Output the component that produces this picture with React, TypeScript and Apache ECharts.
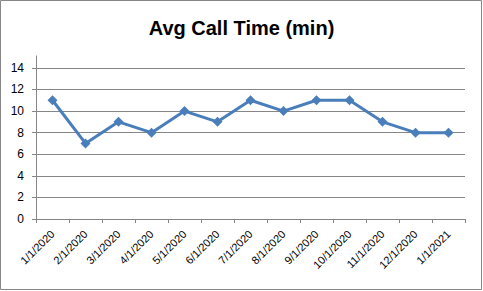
import React, { useEffect, useRef } from "react";
import * as echarts from "echarts";

const categories = [
  "1/1/2020", "2/1/2020", "3/1/2020", "4/1/2020", "5/1/2020", "6/1/2020",
  "7/1/2020", "8/1/2020", "9/1/2020", "10/1/2020", "11/1/2020", "12/1/2020", "1/1/2021",
];
const avgCallTime = [11, 7, 9, 8, 10, 9, 11, 10, 11, 11, 9, 8, 8];
const yMin = 0;
const yMax = 15.1;
const yInterval = 2;

export default function App() {
  const ref = useRef<HTMLDivElement>(null);
  useEffect(() => {
    document.body.style.margin = "0";
    const chart = echarts.init(ref.current!, null, { renderer: "svg" });
    const font = "'Liberation Sans', Arial, sans-serif";
    chart.setOption({
      animation: false,
      backgroundColor: "#ffffff",
      title: {
        text: "Avg Call Time (min)",
        left: "center",
        top: 13,
        textStyle: { fontFamily: font, fontSize: 20, fontWeight: "bold", color: "#000" },
      },
      graphic: [
        {
          type: "rect",
          shape: { x: 0.5, y: 0.5, width: 481, height: 289 },
          style: { fill: "none", stroke: "#868686", lineWidth: 1 },
          silent: true,
        },
      ],
      grid: { left: 36, top: 56, right: 18, bottom: 72 },
      xAxis: {
        type: "category",
        data: categories,
        boundaryGap: true,
        axisLine: { lineStyle: { color: "#868686", width: 1 } },
        axisTick: { show: true, length: 4, alignWithLabel: false, lineStyle: { color: "#868686" } },
        axisLabel: {
          rotate: 45,
          interval: 0,
          margin: 13,
          fontFamily: font,
          fontSize: 11,
          color: "#000",
        },
        splitLine: { show: false },
      },
      yAxis: {
        type: "value",
        min: yMin,
        max: yMax,
        interval: yInterval,
        axisLine: { show: true, lineStyle: { color: "#868686", width: 1 } },
        axisTick: { show: true, length: 4, lineStyle: { color: "#868686" } },
        axisLabel: {
          showMaxLabel: false,
          margin: 12,
          fontFamily: font,
          fontSize: 12,
          color: "#000",
        },
        splitLine: { show: true, showMaxLine: false, lineStyle: { color: "#868686", width: 1 } },
      },
      series: [
        {
          type: "line",
          data: avgCallTime,
          symbol: "diamond",
          symbolSize: 10,
          lineStyle: { color: "#4A7EBB", width: 3 },
          itemStyle: { color: "#4A7EBB" },
        },
      ],
    });
    return () => chart.dispose();
  }, []);
  return <div ref={ref} style={{ width: 483, height: 291 }} />;
}
